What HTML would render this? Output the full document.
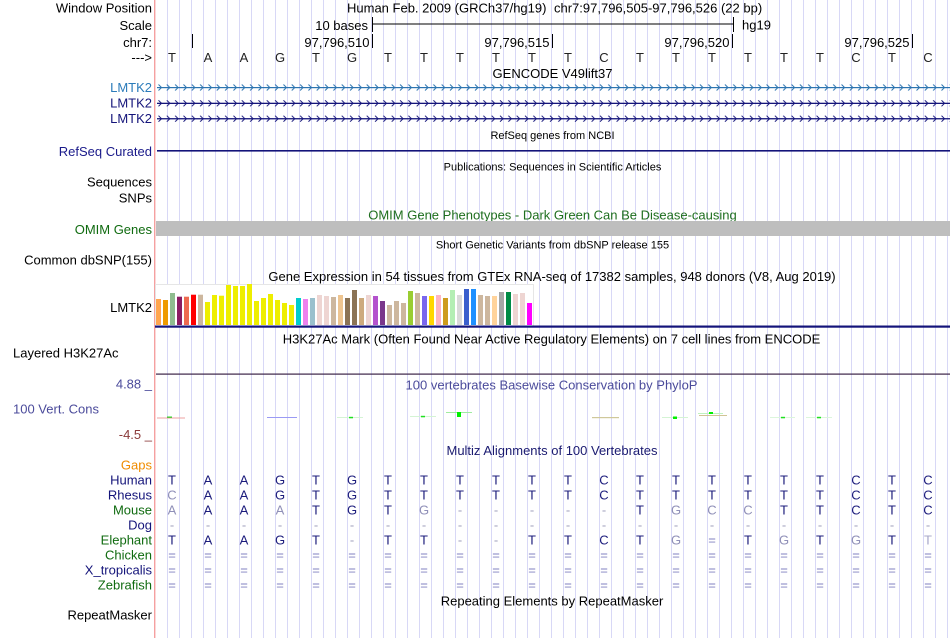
<!DOCTYPE html>
<html><head><meta charset="utf-8"><style>
html,body{margin:0;padding:0;background:#fff;}
svg{display:block;}
text{font-family:"Liberation Sans",Arial,sans-serif;font-size:13px;}
.s{font-size:11px;}
.r{text-anchor:end;}
.m{text-anchor:middle;}
</style></head><body>
<svg width="950" height="638" xmlns="http://www.w3.org/2000/svg">
<defs>
<pattern id="grid" x="167" y="0" width="12" height="10" patternUnits="userSpaceOnUse"><rect x="0" y="0" width="1" height="10" fill="#d8d8f6"/></pattern>
<pattern id="chev1" x="158" y="0" width="8.33" height="638" patternUnits="userSpaceOnUse"><polyline points="0.5,84.5 3.5,87.5 0.5,90.5" fill="none" stroke="#2c74b0" stroke-width="1"/></pattern>
<pattern id="chev2" x="158" y="0" width="8.33" height="638" patternUnits="userSpaceOnUse"><polyline points="0.5,100.3 3.5,103.3 0.5,106.3" fill="none" stroke="#14147a" stroke-width="1"/><polyline points="0.5,115.7 3.5,118.7 0.5,121.7" fill="none" stroke="#14147a" stroke-width="1"/></pattern>
</defs>
<rect width="950" height="638" fill="#fff"/>
<rect x="167" y="0" width="782" height="638" fill="url(#grid)"/>
<rect x="154" y="0" width="1.4" height="638" fill="#f5a0a0"/>

<!-- header -->
<text x="152" y="12.7" class="r">Window Position</text>
<text x="347" y="12.7">Human Feb. 2009 (GRCh37/hg19)</text>
<text x="554" y="12.7">chr7:97,796,505-97,796,526 (22 bp)</text>
<text x="152" y="30" class="r">Scale</text>
<text x="368" y="30" class="r">10 bases</text>
<rect x="372" y="23.5" width="361" height="1" fill="#000"/>
<rect x="372" y="17" width="1" height="15" fill="#000"/>
<rect x="733" y="17" width="1" height="15" fill="#000"/>
<text x="742" y="29.5">hg19</text>
<text x="152" y="47" class="r">chr7:</text>
<rect x="192" y="34" width="1" height="14" fill="#000"/>
<rect x="372" y="34" width="1" height="14" fill="#000"/>
<rect x="552" y="34" width="1" height="14" fill="#000"/>
<rect x="732" y="34" width="1" height="14" fill="#000"/>
<rect x="912" y="34" width="1" height="14" fill="#000"/>
<text x="369.5" y="47" class="r">97,796,510</text>
<text x="549.5" y="47" class="r">97,796,515</text>
<text x="729.5" y="47" class="r">97,796,520</text>
<text x="909.5" y="47" class="r">97,796,525</text>
<text x="152" y="62" class="r">---&gt;</text>
<g class="m" fill="#222">
<text x="172" y="62" class="m">T</text><text x="208" y="62" class="m">A</text><text x="244" y="62" class="m">A</text><text x="280" y="62" class="m">G</text><text x="316" y="62" class="m">T</text><text x="352" y="62" class="m">G</text><text x="388" y="62" class="m">T</text><text x="424" y="62" class="m">T</text><text x="460" y="62" class="m">T</text><text x="496" y="62" class="m">T</text><text x="532" y="62" class="m">T</text><text x="568" y="62" class="m">T</text><text x="604" y="62" class="m">C</text><text x="640" y="62" class="m">T</text><text x="676" y="62" class="m">T</text><text x="712" y="62" class="m">T</text><text x="748" y="62" class="m">T</text><text x="784" y="62" class="m">T</text><text x="820" y="62" class="m">T</text><text x="856" y="62" class="m">C</text><text x="892" y="62" class="m">T</text><text x="928" y="62" class="m">C</text>
</g>

<!-- GENCODE -->
<text x="552.5" y="78" class="m">GENCODE V49lift37</text>
<text x="152" y="92" class="r" fill="#2b7bba">LMTK2</text>
<text x="152" y="107.5" class="r" fill="#14147a">LMTK2</text>
<text x="152" y="123" class="r" fill="#14147a">LMTK2</text>
<rect x="157" y="87" width="793" height="1.2" fill="#2c74b0"/>
<rect x="157" y="102.7" width="793" height="1.3" fill="#14147a"/>
<rect x="157" y="118.1" width="793" height="1.3" fill="#14147a"/>
<rect x="157" y="80" width="793" height="45" fill="url(#chev1)"/>
<rect x="157" y="80" width="793" height="45" fill="url(#chev2)"/>

<!-- RefSeq -->
<text x="552.5" y="139" class="s m">RefSeq genes from NCBI</text>
<text x="152" y="156" class="r" fill="#1a1a8a">RefSeq Curated</text>
<rect x="157" y="150" width="793" height="1.6" fill="#14147a"/>

<text x="552.5" y="170.7" class="s m">Publications: Sequences in Scientific Articles</text>
<text x="152" y="186.7" class="r">Sequences</text>
<text x="152" y="202.7" class="r">SNPs</text>

<!-- OMIM -->
<text x="552.5" y="219.3" class="m" fill="#1e6e1e">OMIM Gene Phenotypes - Dark Green Can Be Disease-causing</text>
<text x="152" y="234" class="r" fill="#106b10">OMIM Genes</text>
<rect x="156" y="221" width="794" height="15" fill="#bebebe"/>

<text x="552.5" y="248.7" class="s m">Short Genetic Variants from dbSNP release 155</text>
<text x="152" y="264.3" class="r">Common dbSNP(155)</text>

<!-- GTEx -->
<text x="552" y="281" class="m">Gene Expression in 54 tissues from GTEx RNA-seq of 17382 samples, 948 donors (V8, Aug 2019)</text>
<text x="152" y="312" class="r">LMTK2</text>
<rect x="155.5" y="284.5" width="378" height="42" fill="#fff" stroke="#e6e6e6" stroke-width="1"/>
<g>
<rect x="156" y="299" width="5" height="26" fill="#FFA54F"/>
<rect x="163" y="300" width="5" height="25" fill="#EE9A00"/>
<rect x="170" y="293" width="5" height="32" fill="#8FBC8F"/>
<rect x="177" y="296.7" width="5" height="28.3" fill="#8B1C62"/>
<rect x="184" y="296.7" width="5" height="28.3" fill="#EE6A50"/>
<rect x="191" y="294.7" width="5" height="30.3" fill="#FF0000"/>
<rect x="198" y="294.7" width="5" height="30.3" fill="#CDB79E"/>
<rect x="205" y="302" width="5" height="23" fill="#EEEE00"/>
<rect x="212" y="295" width="5" height="30" fill="#EEEE00"/>
<rect x="219" y="295.7" width="5" height="29.3" fill="#EEEE00"/>
<rect x="226" y="285" width="5" height="40" fill="#EEEE00"/>
<rect x="233" y="286" width="5" height="39" fill="#EEEE00"/>
<rect x="240" y="286" width="5" height="39" fill="#EEEE00"/>
<rect x="247" y="284" width="5" height="41" fill="#EEEE00"/>
<rect x="254" y="301" width="5" height="24" fill="#EEEE00"/>
<rect x="261" y="298" width="5" height="27" fill="#EEEE00"/>
<rect x="268" y="294" width="5" height="31" fill="#EEEE00"/>
<rect x="275" y="300" width="5" height="25" fill="#EEEE00"/>
<rect x="282" y="303" width="5" height="22" fill="#EEEE00"/>
<rect x="289" y="305" width="5" height="20" fill="#EEEE00"/>
<rect x="296" y="298" width="5" height="27" fill="#00CDCD"/>
<rect x="303" y="299" width="5" height="26" fill="#EE82EE"/>
<rect x="310" y="298" width="5" height="27" fill="#9AC0CD"/>
<rect x="317" y="295" width="5" height="30" fill="#EED5D2"/>
<rect x="324" y="296" width="5" height="29" fill="#EED5D2"/>
<rect x="331" y="297" width="5" height="28" fill="#CDB79E"/>
<rect x="338" y="295" width="5" height="30" fill="#EEC591"/>
<rect x="345" y="298" width="5" height="27" fill="#8B7355"/>
<rect x="352" y="290" width="5" height="35" fill="#8B7355"/>
<rect x="359" y="298" width="5" height="27" fill="#CDAA7D"/>
<rect x="366" y="295" width="5" height="30" fill="#EED5D2"/>
<rect x="373" y="296" width="5" height="29" fill="#B452CD"/>
<rect x="380" y="301" width="5" height="24" fill="#7A378B"/>
<rect x="387" y="305" width="5" height="20" fill="#CDB79E"/>
<rect x="394" y="301" width="5" height="24" fill="#CDB79E"/>
<rect x="401" y="303" width="5" height="22" fill="#CDB79E"/>
<rect x="408" y="291" width="5" height="34" fill="#9ACD32"/>
<rect x="415" y="293" width="5" height="32" fill="#CDB79E"/>
<rect x="422" y="296" width="5" height="29" fill="#7A67EE"/>
<rect x="429" y="296" width="5" height="29" fill="#FFD700"/>
<rect x="436" y="295" width="5" height="30" fill="#FFB6C1"/>
<rect x="443" y="298" width="5" height="27" fill="#CD9B1D"/>
<rect x="450" y="290" width="5" height="35" fill="#B4EEB4"/>
<rect x="457" y="295" width="5" height="30" fill="#D9D9D9"/>
<rect x="464" y="289" width="5" height="36" fill="#3A5FCD"/>
<rect x="471" y="289" width="5" height="36" fill="#1E90FF"/>
<rect x="478" y="295" width="5" height="30" fill="#CDB79E"/>
<rect x="485" y="296" width="5" height="29" fill="#CDB79E"/>
<rect x="492" y="296" width="5" height="29" fill="#FFD39B"/>
<rect x="499" y="292" width="5" height="33" fill="#A6A6A6"/>
<rect x="506" y="292" width="5" height="33" fill="#008B45"/>
<rect x="513" y="294" width="5" height="31" fill="#EED5D2"/>
<rect x="520" y="293" width="5" height="32" fill="#EED5D2"/>
<rect x="527" y="303" width="5" height="22" fill="#FF00FF"/>
</g>
<rect x="155" y="325.5" width="795" height="2.2" fill="#14147a"/>

<!-- H3K27Ac -->
<text x="551.5" y="343.3" class="m">H3K27Ac Mark (Often Found Near Active Regulatory Elements) on 7 cell lines from ENCODE</text>
<text x="13" y="357.3">Layered H3K27Ac</text>
<rect x="156" y="373.5" width="794" height="1.2" fill="#3b2346"/>

<!-- Conservation -->
<text x="152" y="388.7" class="r" fill="#4b4b9b">4.88 _</text>
<text x="551.5" y="389.3" class="m" fill="#4b4b9b">100 vertebrates Basewise Conservation by PhyloP</text>
<text x="13" y="413.3" fill="#4b4b9b">100 Vert. Cons</text>
<text x="152" y="439" class="r" fill="#8b3a3a">-4.5 _</text>
<rect x="157" y="417.5" width="28" height="1" fill="#eea0a0"/>
<rect x="167" y="416.6" width="5" height="1" fill="#00d000"/>
<rect x="267" y="417" width="30" height="1" fill="#9a9af4"/>
<rect x="337" y="417" width="26" height="1" fill="#d4f4d4"/>
<rect x="349" y="416.8" width="4" height="1.5" fill="#20e020"/>
<rect x="410" y="416" width="26" height="1" fill="#d4f4d4"/>
<rect x="421" y="415.8" width="4" height="1.5" fill="#20e020"/>
<rect x="446" y="412" width="26" height="1" fill="#a0eca0"/>
<rect x="457" y="412" width="4" height="5" fill="#00f000"/>
<rect x="592" y="417" width="27" height="1.2" fill="#cfc89a"/>
<rect x="662" y="417" width="26" height="1" fill="#d4f4d4"/>
<rect x="673" y="416.5" width="4" height="2.5" fill="#00f000"/>
<rect x="698" y="413" width="25" height="1" fill="#c0f2c0"/>
<rect x="709" y="412" width="4" height="2" fill="#00f000"/>
<rect x="699" y="415" width="28" height="1" fill="#d0c494"/>
<rect x="770" y="417" width="25" height="1" fill="#dcf6dc"/>
<rect x="781" y="416.8" width="4" height="1.5" fill="#20e020"/>
<rect x="806" y="417" width="26" height="1" fill="#dcf6dc"/>
<rect x="817" y="416.8" width="4" height="1.5" fill="#20e020"/>

<!-- Multiz -->
<text x="552" y="455" class="m" fill="#1a1a70">Multiz Alignments of 100 Vertebrates</text>
<text x="152" y="469.3" class="r" fill="#f08c00">Gaps</text>
<text x="152" y="484.3" class="r" fill="#14147a">Human</text>
<text x="152" y="499.3" class="r" fill="#14147a">Rhesus</text>
<text x="152" y="514.3" class="r" fill="#106b10">Mouse</text>
<text x="152" y="529.3" class="r" fill="#14147a">Dog</text>
<text x="152" y="544.3" class="r" fill="#106b10">Elephant</text>
<text x="152" y="559.3" class="r" fill="#106b10">Chicken</text>
<text x="152" y="574.3" class="r" fill="#14147a">X_tropicalis</text>
<text x="152" y="589.3" class="r" fill="#106b10">Zebrafish</text>

<g fill="#1c1c7c">
<!-- Human -->
<text x="172" y="484.3" class="m">T</text><text x="208" y="484.3" class="m">A</text><text x="244" y="484.3" class="m">A</text><text x="280" y="484.3" class="m">G</text><text x="316" y="484.3" class="m">T</text><text x="352" y="484.3" class="m">G</text><text x="388" y="484.3" class="m">T</text><text x="424" y="484.3" class="m">T</text><text x="460" y="484.3" class="m">T</text><text x="496" y="484.3" class="m">T</text><text x="532" y="484.3" class="m">T</text><text x="568" y="484.3" class="m">T</text><text x="604" y="484.3" class="m">C</text><text x="640" y="484.3" class="m">T</text><text x="676" y="484.3" class="m">T</text><text x="712" y="484.3" class="m">T</text><text x="748" y="484.3" class="m">T</text><text x="784" y="484.3" class="m">T</text><text x="820" y="484.3" class="m">T</text><text x="856" y="484.3" class="m">C</text><text x="892" y="484.3" class="m">T</text><text x="928" y="484.3" class="m">C</text>
<!-- Rhesus -->
<text x="172" y="499.3" class="m" fill="#9090b8">C</text><text x="208" y="499.3" class="m">A</text><text x="244" y="499.3" class="m">A</text><text x="280" y="499.3" class="m">G</text><text x="316" y="499.3" class="m">T</text><text x="352" y="499.3" class="m">G</text><text x="388" y="499.3" class="m">T</text><text x="424" y="499.3" class="m">T</text><text x="460" y="499.3" class="m">T</text><text x="496" y="499.3" class="m">T</text><text x="532" y="499.3" class="m">T</text><text x="568" y="499.3" class="m">T</text><text x="604" y="499.3" class="m">C</text><text x="640" y="499.3" class="m">T</text><text x="676" y="499.3" class="m">T</text><text x="712" y="499.3" class="m">T</text><text x="748" y="499.3" class="m">T</text><text x="784" y="499.3" class="m">T</text><text x="820" y="499.3" class="m">T</text><text x="856" y="499.3" class="m">C</text><text x="892" y="499.3" class="m">T</text><text x="928" y="499.3" class="m">C</text>
<!-- Mouse -->
<text x="172" y="514.3" class="m" fill="#9090b8">A</text><text x="208" y="514.3" class="m">A</text><text x="244" y="514.3" class="m">A</text><text x="280" y="514.3" class="m" fill="#9090b8">A</text><text x="316" y="514.3" class="m">T</text><text x="352" y="514.3" class="m">G</text><text x="388" y="514.3" class="m">T</text><text x="424" y="514.3" class="m" fill="#9090b8">G</text><text x="460" y="514.3" class="m" fill="#a0a0bc">-</text><text x="496" y="514.3" class="m" fill="#a0a0bc">-</text><text x="532" y="514.3" class="m" fill="#a0a0bc">-</text><text x="568" y="514.3" class="m" fill="#a0a0bc">-</text><text x="604" y="514.3" class="m" fill="#a0a0bc">-</text><text x="640" y="514.3" class="m">T</text><text x="676" y="514.3" class="m" fill="#9090b8">G</text><text x="712" y="514.3" class="m" fill="#9090b8">C</text><text x="748" y="514.3" class="m" fill="#9090b8">C</text><text x="784" y="514.3" class="m">T</text><text x="820" y="514.3" class="m">T</text><text x="856" y="514.3" class="m">C</text><text x="892" y="514.3" class="m">T</text><text x="928" y="514.3" class="m">C</text>
<!-- Elephant -->
<text x="172" y="544.3" class="m">T</text><text x="208" y="544.3" class="m">A</text><text x="244" y="544.3" class="m">A</text><text x="280" y="544.3" class="m">G</text><text x="316" y="544.3" class="m">T</text><text x="352" y="544.3" class="m" fill="#a0a0bc">-</text><text x="388" y="544.3" class="m">T</text><text x="424" y="544.3" class="m">T</text><text x="460" y="544.3" class="m" fill="#a0a0bc">-</text><text x="496" y="544.3" class="m" fill="#a0a0bc">-</text><text x="532" y="544.3" class="m">T</text><text x="568" y="544.3" class="m">T</text><text x="604" y="544.3" class="m">C</text><text x="640" y="544.3" class="m">T</text><text x="676" y="544.3" class="m" fill="#9090b8">G</text><text x="712" y="544.3" class="m" fill="#8080c0">=</text><text x="748" y="544.3" class="m">T</text><text x="784" y="544.3" class="m" fill="#9090b8">G</text><text x="820" y="544.3" class="m">T</text><text x="856" y="544.3" class="m" fill="#9090b8">G</text><text x="892" y="544.3" class="m">T</text><text x="928" y="544.3" class="m" fill="#a8a8c8">T</text>
</g>
<!-- Dog dashes -->
<g fill="#a0a0bc">
<text x="172" y="529.3" class="m">-</text><text x="208" y="529.3" class="m">-</text><text x="244" y="529.3" class="m">-</text><text x="280" y="529.3" class="m">-</text><text x="316" y="529.3" class="m">-</text><text x="352" y="529.3" class="m">-</text><text x="388" y="529.3" class="m">-</text><text x="424" y="529.3" class="m">-</text><text x="460" y="529.3" class="m">-</text><text x="496" y="529.3" class="m">-</text><text x="532" y="529.3" class="m">-</text><text x="568" y="529.3" class="m">-</text><text x="604" y="529.3" class="m">-</text><text x="640" y="529.3" class="m">-</text><text x="676" y="529.3" class="m">-</text><text x="712" y="529.3" class="m">-</text><text x="748" y="529.3" class="m">-</text><text x="784" y="529.3" class="m">-</text><text x="820" y="529.3" class="m">-</text><text x="856" y="529.3" class="m">-</text><text x="892" y="529.3" class="m">-</text><text x="928" y="529.3" class="m">-</text>
</g>
<!-- Chicken / X_tropicalis / Zebrafish -->
<g fill="#8080c0">
<text x="172" y="559.3" class="m">=</text><text x="208" y="559.3" class="m">=</text><text x="244" y="559.3" class="m">=</text><text x="280" y="559.3" class="m">=</text><text x="316" y="559.3" class="m">=</text><text x="352" y="559.3" class="m">=</text><text x="388" y="559.3" class="m">=</text><text x="424" y="559.3" class="m">=</text><text x="460" y="559.3" class="m">=</text><text x="496" y="559.3" class="m">=</text><text x="532" y="559.3" class="m">=</text><text x="568" y="559.3" class="m">=</text><text x="604" y="559.3" class="m">=</text><text x="640" y="559.3" class="m">=</text><text x="676" y="559.3" class="m">=</text><text x="712" y="559.3" class="m">=</text><text x="748" y="559.3" class="m">=</text><text x="784" y="559.3" class="m">=</text><text x="820" y="559.3" class="m">=</text><text x="856" y="559.3" class="m">=</text><text x="892" y="559.3" class="m">=</text><text x="928" y="559.3" class="m">=</text>
<text x="172" y="574.3" class="m">=</text><text x="208" y="574.3" class="m">=</text><text x="244" y="574.3" class="m">=</text><text x="280" y="574.3" class="m">=</text><text x="316" y="574.3" class="m">=</text><text x="352" y="574.3" class="m">=</text><text x="388" y="574.3" class="m">=</text><text x="424" y="574.3" class="m">=</text><text x="460" y="574.3" class="m">=</text><text x="496" y="574.3" class="m">=</text><text x="532" y="574.3" class="m">=</text><text x="568" y="574.3" class="m">=</text><text x="604" y="574.3" class="m">=</text><text x="640" y="574.3" class="m">=</text><text x="676" y="574.3" class="m">=</text><text x="712" y="574.3" class="m">=</text><text x="748" y="574.3" class="m">=</text><text x="784" y="574.3" class="m">=</text><text x="820" y="574.3" class="m">=</text><text x="856" y="574.3" class="m">=</text><text x="892" y="574.3" class="m">=</text><text x="928" y="574.3" class="m">=</text>
<text x="172" y="589.3" class="m">=</text><text x="208" y="589.3" class="m">=</text><text x="244" y="589.3" class="m">=</text><text x="280" y="589.3" class="m">=</text><text x="316" y="589.3" class="m">=</text><text x="352" y="589.3" class="m">=</text><text x="388" y="589.3" class="m">=</text><text x="424" y="589.3" class="m">=</text><text x="460" y="589.3" class="m">=</text><text x="496" y="589.3" class="m">=</text><text x="532" y="589.3" class="m">=</text><text x="568" y="589.3" class="m">=</text><text x="604" y="589.3" class="m">=</text><text x="640" y="589.3" class="m">=</text><text x="676" y="589.3" class="m">=</text><text x="712" y="589.3" class="m">=</text><text x="748" y="589.3" class="m">=</text><text x="784" y="589.3" class="m">=</text><text x="820" y="589.3" class="m">=</text><text x="856" y="589.3" class="m">=</text><text x="892" y="589.3" class="m">=</text><text x="928" y="589.3" class="m">=</text>
</g>

<!-- RepeatMasker -->
<text x="552" y="605.3" class="m">Repeating Elements by RepeatMasker</text>
<text x="152" y="619.3" class="r">RepeatMasker</text>
</svg>
</body></html>
